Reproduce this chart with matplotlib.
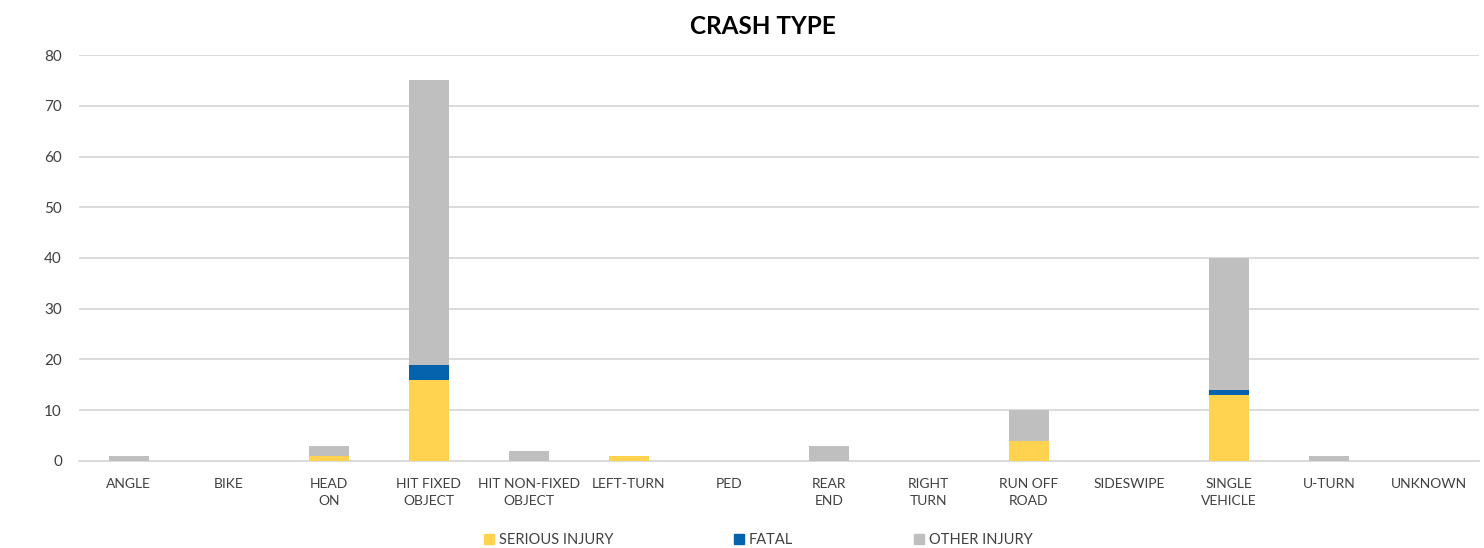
import numpy as np
import matplotlib.pyplot as plt
from matplotlib.patches import Patch

plt.rcParams['font.family'] = ['Lato', 'DejaVu Sans']

# данные
categories = ['ANGLE', 'BIKE', 'HEAD\nON', 'HIT FIXED\nOBJECT', 'HIT NON-FIXED\nOBJECT', 'LEFT-TURN',
              'PED', 'REAR\nEND', 'RIGHT\nTURN', 'RUN OFF\nROAD', 'SIDESWIPE', 'SINGLE\nVEHICLE',
              'U-TURN', 'UNKNOWN']
serious = [0, 0, 1, 16, 0, 1, 0, 0, 0, 4, 0, 13, 0, 0]
fatal = [0, 0, 0, 3, 0, 0, 0, 0, 0, 0, 0, 1, 0, 0]
other = [1, 0, 2, 56, 2, 0, 0, 3, 0, 6, 0, 26, 1, 0]

serious = np.array(serious)
fatal = np.array(fatal)
other = np.array(other)
x = np.arange(len(categories))

c_ser, c_fat, c_oth = '#FFD34F', '#0563AE', '#BFBFBF'

fig = plt.figure(figsize=(14.84, 5.48), dpi=100)
ax = fig.add_axes([0.053, 0.1588, 0.9436, 0.7408])

w = 0.4
ax.bar(x, serious, w, color=c_ser, zorder=3)
ax.bar(x, fatal, w, bottom=serious, color=c_fat, zorder=3)
ax.bar(x, other, w, bottom=serious + fatal, color=c_oth, zorder=3)

ax.set_xlim(-0.5, len(categories) - 0.5)
ax.set_ylim(0, 80)
ax.set_yticks(range(0, 81, 10))
ax.set_xticks(x)
ax.set_xticklabels(categories, fontsize=10, color='#404040', linespacing=1.55)
ax.tick_params(axis='y', labelsize=11, colors='#404040', length=0, pad=12)
ax.tick_params(axis='x', length=0, pad=12)
ax.grid(axis='y', color='#D9D9D9', linewidth=1.3, zorder=0)
for s in ['top', 'right', 'left']:
    ax.spines[s].set_visible(False)
ax.spines['bottom'].set_color('#D9D9D9')
ax.spines['bottom'].set_linewidth(1.3)

fig.text(0.514, 0.952, 'CRASH TYPE', ha='center', va='center', fontsize=17.5, fontweight='bold', color='black')

# легенда - три отдельных элемента
leg_items = [('SERIOUS INJURY', c_ser, 484), ('FATAL', c_fat, 734), ('OTHER INJURY', c_oth, 914)]
for lab, col, px in leg_items:
    leg = fig.legend(handles=[Patch(color=col, label=lab)], loc='center left',
                     bbox_to_anchor=(px / 1484, 1 - 540 / 548), frameon=False, fontsize=10.5,
                     handlelength=0.7, handleheight=0.7, handletextpad=0.3, borderpad=0, borderaxespad=0)
    for t in leg.get_texts():
        t.set_color('#404040')

fig.savefig('out.png', dpi=100)
